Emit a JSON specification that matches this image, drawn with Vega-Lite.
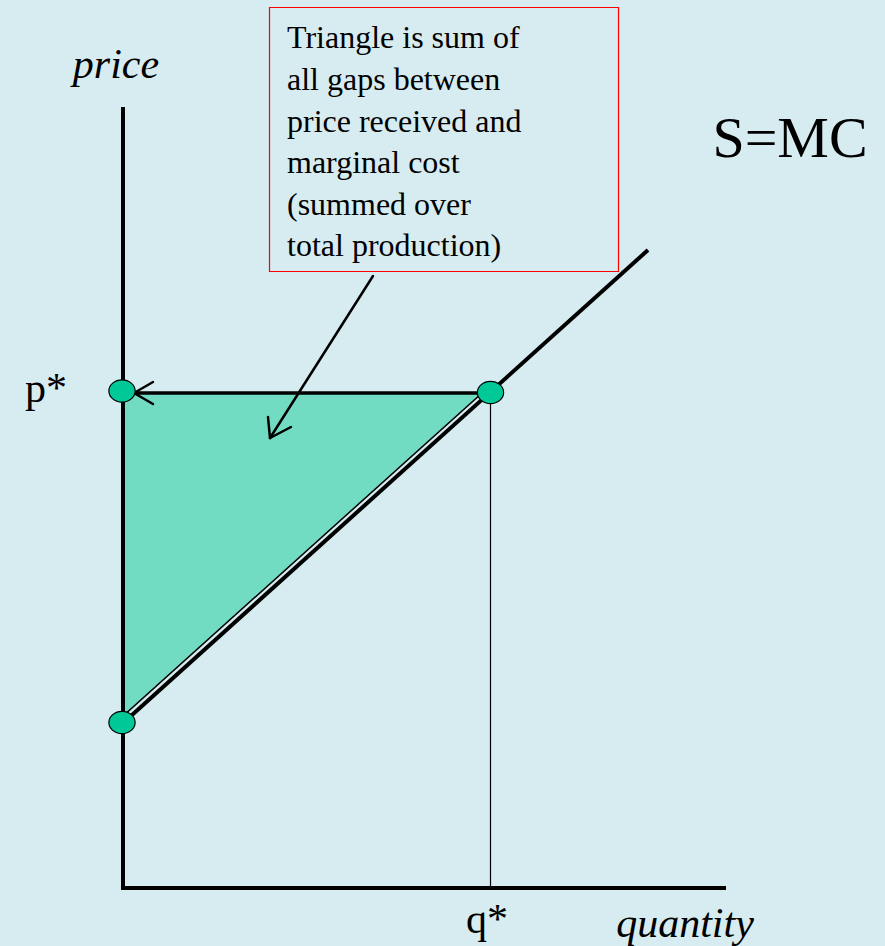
{
  "$schema": "https://vega.github.io/schema/vega-lite/v6.json",
  "width": 885,
  "height": 946,
  "padding": 0,
  "autosize": {"type": "none"},
  "background": "#D7ECF0",
  "config": {"view": {"stroke": null}, "axis": {"disable": true}},
  "datasets": {
    "segments": [
      {"part": "axis", "x": 123, "y": 107, "x2": 123, "y2": 888},
      {"part": "axis", "x": 121, "y": 888, "x2": 726, "y2": 888},
      {"part": "supply", "x": 122, "y": 724, "x2": 648, "y2": 250},
      {"part": "pstar", "x": 122, "y": 393, "x2": 490, "y2": 393},
      {"part": "qstar", "x": 490.5, "y": 393, "x2": 490.5, "y2": 888},
      {"part": "arrow", "x": 373, "y": 276, "x2": 270, "y2": 438},
      {"part": "arrow", "x": 270, "y": 438, "x2": 268, "y2": 417},
      {"part": "arrow", "x": 270, "y": 438, "x2": 291, "y2": 427},
      {"part": "arrow", "x": 134, "y": 393, "x2": 153, "y2": 382},
      {"part": "arrow", "x": 134, "y": 393, "x2": 153, "y2": 404}
    ],
    "triangle": [
      {"x": 123, "top": 393, "bottom": 716},
      {"x": 482, "top": 393, "bottom": 393}
    ],
    "dots": [
      {"x": 122, "y": 391},
      {"x": 490.5, "y": 392.5},
      {"x": 122, "y": 722.5}
    ],
    "box": [{"x": 269.5, "y": 7.5, "x2": 618.5, "y2": 271.5}],
    "boxtext": [
      {"line": "Triangle is sum of", "x": 287, "y": 48},
      {"line": "all gaps between", "x": 287, "y": 90},
      {"line": "price received and", "x": 287, "y": 131.5},
      {"line": "marginal cost", "x": 287, "y": 173},
      {"line": "(summed over", "x": 287, "y": 214.5},
      {"line": "total production)", "x": 287, "y": 255.5}
    ],
    "axislabels": [
      {"label": "price", "x": 116, "y": 78},
      {"label": "quantity", "x": 685, "y": 937}
    ],
    "stars": [
      {"label": "p*", "x": 46, "y": 402},
      {"label": "q*", "x": 487, "y": 933}
    ],
    "curve": [{"label": "S=MC", "x": 790, "y": 157}]
  },
  "encoding": {
    "x": {"field": "x", "type": "quantitative", "scale": {"domain": [0, 885], "nice": false, "zero": false}, "axis": null},
    "y": {"field": "y", "type": "quantitative", "scale": {"domain": [0, 946], "nice": false, "zero": false, "reverse": true}, "axis": null}
  },
  "layer": [
    {
      "data": {"name": "triangle"},
      "mark": {"type": "area", "fill": "#72DCC2", "stroke": "#000000", "strokeWidth": 1.5},
      "encoding": {
        "y": {"field": "top", "type": "quantitative"},
        "y2": {"field": "bottom"}
      }
    },
    {
      "data": {"name": "segments"},
      "transform": [{"filter": "datum.part === 'axis' || datum.part === 'supply'"}],
      "mark": {"type": "rule", "color": "#000000", "strokeWidth": 4, "strokeCap": "butt"},
      "encoding": {"x2": {"field": "x2"}, "y2": {"field": "y2"}}
    },
    {
      "data": {"name": "segments"},
      "transform": [{"filter": "datum.part === 'pstar'"}],
      "mark": {"type": "rule", "color": "#000000", "strokeWidth": 3.5},
      "encoding": {"x2": {"field": "x2"}, "y2": {"field": "y2"}}
    },
    {
      "data": {"name": "segments"},
      "transform": [{"filter": "datum.part === 'qstar'"}],
      "mark": {"type": "rule", "color": "#000000", "strokeWidth": 1.2},
      "encoding": {"x2": {"field": "x2"}, "y2": {"field": "y2"}}
    },
    {
      "data": {"name": "segments"},
      "transform": [{"filter": "datum.part === 'arrow'"}],
      "mark": {"type": "rule", "color": "#000000", "strokeWidth": 2.5, "strokeCap": "round"},
      "encoding": {"x2": {"field": "x2"}, "y2": {"field": "y2"}}
    },
    {
      "data": {"name": "dots"},
      "mark": {"type": "point", "shape": "M-1,0A1,0.85,0,1,0,1,0A1,0.85,0,1,0,-1,0Z", "size": 690, "filled": true, "fill": "#00C896", "fillOpacity": 1, "stroke": "#000000", "strokeWidth": 1.2, "opacity": 1}
    },
    {
      "data": {"name": "box"},
      "mark": {"type": "rect", "fill": null, "fillOpacity": 0, "stroke": "#FF0000", "strokeWidth": 1.2},
      "encoding": {"x2": {"field": "x2"}, "y2": {"field": "y2"}}
    },
    {
      "data": {"name": "boxtext"},
      "mark": {"type": "text", "font": "Liberation Serif", "fontSize": 32, "align": "left", "baseline": "alphabetic", "color": "#000000"},
      "encoding": {"text": {"field": "line"}}
    },
    {
      "data": {"name": "axislabels"},
      "mark": {"type": "text", "font": "Liberation Serif", "fontStyle": "italic", "fontSize": 42, "align": "center", "baseline": "alphabetic", "color": "#000000"},
      "encoding": {"text": {"field": "label"}}
    },
    {
      "data": {"name": "stars"},
      "mark": {"type": "text", "font": "Liberation Serif", "fontSize": 42, "align": "center", "baseline": "alphabetic", "color": "#000000"},
      "encoding": {"text": {"field": "label"}}
    },
    {
      "data": {"name": "curve"},
      "mark": {"type": "text", "font": "Liberation Serif", "fontSize": 58, "align": "center", "baseline": "alphabetic", "color": "#000000"},
      "encoding": {"text": {"field": "label"}}
    }
  ]
}
